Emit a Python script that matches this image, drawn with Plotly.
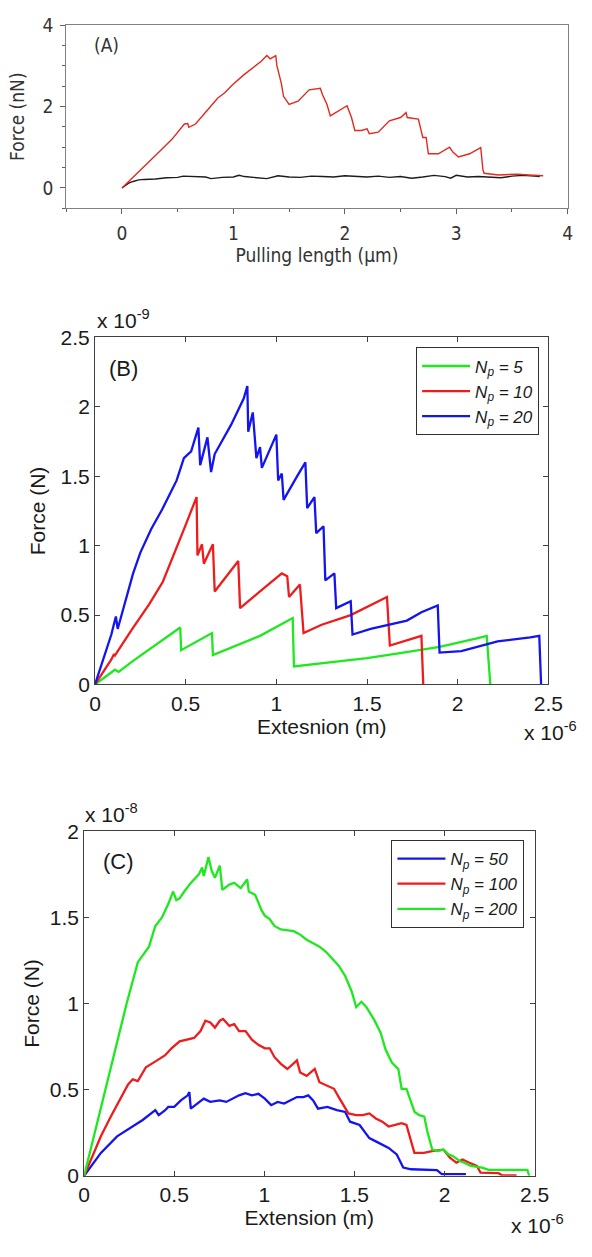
import plotly.graph_objects as go

W, H = 592, 1257

# ---------------- Panel A (x in um, y in nN) ----------------
a_red_x = [0, 0.14, 0.24, 0.33, 0.45, 0.56, 0.59, 0.60, 0.66, 0.76, 0.86, 0.92, 0.99, 1.09, 1.19,
           1.25, 1.30, 1.33, 1.38, 1.39, 1.43, 1.45, 1.50, 1.58, 1.68, 1.78, 1.80, 1.84, 1.87, 1.94,
           2.02, 2.06, 2.09, 2.15, 2.20, 2.22, 2.30, 2.40, 2.50, 2.55, 2.56, 2.66, 2.70, 2.73, 2.75,
           2.84, 2.94, 2.97, 3.02, 3.12, 3.22, 3.24, 3.25, 3.38, 3.55, 3.65, 3.78]
a_red_y = [0, 0.36, 0.64, 0.88, 1.20, 1.57, 1.58, 1.49, 1.57, 1.89, 2.21, 2.33, 2.53, 2.77, 2.97,
           3.11, 3.25, 3.17, 3.25, 3.01, 2.57, 2.25, 2.05, 2.13, 2.41, 2.45, 2.29, 2.05, 1.77, 1.89,
           2.02, 1.73, 1.41, 1.41, 1.45, 1.33, 1.37, 1.65, 1.73, 1.85, 1.73, 1.69, 1.24, 1.24, 0.84,
           0.84, 1.00, 0.88, 0.76, 0.84, 0.99, 0.44, 0.36, 0.32, 0.34, 0.32, 0.30]
a_black_x = [0, 0.03, 0.06, 0.10, 0.15, 0.20, 0.30, 0.40, 0.50, 0.55, 0.65, 0.75, 0.80, 0.90, 1.00,
             1.05, 1.10, 1.20, 1.30, 1.40, 1.50, 1.60, 1.70, 1.80, 1.90, 2.00, 2.10, 2.20, 2.30, 2.40,
             2.50, 2.60, 2.70, 2.80, 2.90, 2.95, 3.00, 3.10, 3.20, 3.30, 3.40, 3.50, 3.60, 3.70, 3.75]
a_black_y = [0, 0.07, 0.12, 0.16, 0.20, 0.21, 0.22, 0.25, 0.26, 0.29, 0.28, 0.27, 0.23, 0.26, 0.27,
             0.31, 0.28, 0.25, 0.23, 0.30, 0.27, 0.26, 0.29, 0.28, 0.27, 0.30, 0.28, 0.27, 0.29, 0.26,
             0.28, 0.24, 0.27, 0.31, 0.28, 0.24, 0.31, 0.27, 0.28, 0.26, 0.25, 0.29, 0.31, 0.29, 0.28]

# ---------------- Panel B (x in 1e-6 m, y in 1e-9 N) ----------------
b_names = ["<i>N<sub>p</sub> = 5</i>", "<i>N<sub>p</sub> = 10</i>", "<i>N<sub>p</sub> = 20</i>"]
b5_x = [0, 0.11, 0.13, 0.21, 0.47, 0.475, 0.645, 0.65, 0.91, 1.09, 1.097, 1.30, 1.50, 1.70, 1.90,
        2.10, 2.16, 2.18]
b5_y = [0, 0.106, 0.09, 0.17, 0.41, 0.247, 0.37, 0.212, 0.35, 0.478, 0.13, 0.16, 0.19, 0.23, 0.27,
        0.33, 0.35, 0]
b10_x = [0, 0.09, 0.105, 0.11, 0.20, 0.30, 0.374, 0.45, 0.50, 0.56, 0.565, 0.59, 0.60, 0.65, 0.66,
         0.79, 0.80, 0.91, 1.03, 1.06, 1.07, 1.13, 1.15, 1.25, 1.41, 1.61, 1.626, 1.80, 1.81]
b10_y = [0, 0.18, 0.22, 0.21, 0.39, 0.58, 0.74, 0.98, 1.15, 1.35, 0.93, 1.01, 0.87, 1.01, 0.67,
         0.89, 0.55, 0.67, 0.80, 0.78, 0.63, 0.72, 0.37, 0.43, 0.50, 0.63, 0.28, 0.35, 0]
b20_x = [0, 0.09, 0.115, 0.125, 0.21, 0.25, 0.31, 0.37, 0.45, 0.49, 0.53, 0.57, 0.58, 0.62, 0.64,
         0.66, 0.75, 0.82, 0.84, 0.845, 0.87, 0.89, 0.91, 0.92, 1.00, 1.01, 1.03, 1.04, 1.11, 1.16,
         1.17, 1.21, 1.22, 1.26, 1.27, 1.32, 1.33, 1.41, 1.42, 1.52, 1.72, 1.80, 1.89, 1.90, 2.02,
         2.22, 2.40, 2.45, 2.46]
b20_y = [0, 0.36, 0.49, 0.40, 0.80, 0.95, 1.12, 1.26, 1.47, 1.63, 1.68, 1.85, 1.58, 1.78, 1.53,
         1.66, 1.87, 2.06, 2.15, 1.82, 1.96, 1.63, 1.71, 1.56, 1.80, 1.47, 1.52, 1.33, 1.49, 1.60,
         1.27, 1.35, 1.09, 1.14, 0.75, 0.80, 0.55, 0.60, 0.36, 0.40, 0.46, 0.52, 0.57, 0.23, 0.24,
         0.31, 0.34, 0.35, 0]

# ---------------- Panel C (x in 1e-6 m, y in 1e-8 N) ----------------
c_names = ["<i>N<sub>p</sub> = 50</i>", "<i>N<sub>p</sub> = 100</i>", "<i>N<sub>p</sub> = 200</i>"]
c50_x = [0, 0.093, 0.183, 0.27, 0.325, 0.395, 0.414, 0.45, 0.467, 0.50, 0.537, 0.575, 0.584, 0.592,
         0.628, 0.664, 0.70, 0.753, 0.789, 0.824, 0.86, 0.895, 0.931, 0.967, 1.003, 1.038, 1.074,
         1.11, 1.146, 1.181, 1.217, 1.244, 1.271, 1.298, 1.35, 1.403, 1.449, 1.476, 1.529, 1.556,
         1.583, 1.619, 1.655, 1.69, 1.735, 1.771, 1.815, 1.958, 1.985, 2.119]
c50_y = [0, 0.133, 0.229, 0.286, 0.324, 0.381, 0.352, 0.381, 0.40, 0.40, 0.438, 0.467, 0.486, 0.39,
         0.419, 0.448, 0.429, 0.438, 0.429, 0.448, 0.467, 0.48, 0.467, 0.476, 0.448, 0.41, 0.429,
         0.419, 0.438, 0.457, 0.457, 0.467, 0.438, 0.39, 0.40, 0.381, 0.371, 0.314, 0.295, 0.257,
         0.219, 0.20, 0.181, 0.162, 0.124, 0.048, 0.038, 0.033, 0.01, 0.01]
c100_x = [0, 0.093, 0.146, 0.20, 0.244, 0.27, 0.298, 0.343, 0.378, 0.405, 0.45, 0.485, 0.53, 0.575,
          0.61, 0.646, 0.673, 0.70, 0.726, 0.753, 0.771, 0.789, 0.806, 0.833, 0.86, 0.896, 0.931,
          0.967, 1.003, 1.03, 1.056, 1.092, 1.128, 1.181, 1.199, 1.235, 1.28, 1.306, 1.342, 1.387,
          1.413, 1.44, 1.467, 1.51, 1.547, 1.583, 1.619, 1.655, 1.69, 1.726, 1.762, 1.789, 1.815,
          1.833, 1.886, 1.931, 1.994, 2.03, 2.066, 2.10, 2.138, 2.18, 2.20, 2.30, 2.32, 2.40]
c100_y = [0, 0.23, 0.34, 0.44, 0.53, 0.56, 0.55, 0.63, 0.65, 0.67, 0.70, 0.74, 0.78, 0.79, 0.80,
          0.84, 0.90, 0.89, 0.86, 0.90, 0.91, 0.89, 0.87, 0.88, 0.84, 0.84, 0.79, 0.76, 0.74, 0.74,
          0.69, 0.65, 0.62, 0.67, 0.60, 0.58, 0.62, 0.543, 0.524, 0.505, 0.457, 0.41, 0.362, 0.352,
          0.352, 0.362, 0.333, 0.314, 0.286, 0.295, 0.305, 0.295, 0.20, 0.133, 0.133, 0.143, 0.152,
          0.105, 0.076, 0.095, 0.076, 0.057, 0.019, 0.015, 0.003, 0.003]
c200_x = [0, 0.06, 0.12, 0.18, 0.236, 0.298, 0.36, 0.395, 0.432, 0.468, 0.494, 0.512, 0.53, 0.556,
          0.592, 0.637, 0.655, 0.664, 0.69, 0.708, 0.726, 0.753, 0.767, 0.806, 0.833, 0.869, 0.905,
          0.914, 0.95, 0.985, 1.003, 1.03, 1.056, 1.092, 1.163, 1.199, 1.235, 1.271, 1.306, 1.342,
          1.378, 1.413, 1.449, 1.485, 1.51, 1.539, 1.566, 1.61, 1.646, 1.673, 1.708, 1.744, 1.762,
          1.789, 1.834, 1.861, 1.888, 1.905, 1.932, 1.959, 1.995, 2.022, 2.048, 2.084, 2.11, 2.146,
          2.209, 2.245, 2.46, 2.47]
c200_y = [0, 0.25, 0.50, 0.76, 1.00, 1.24, 1.33, 1.45, 1.50, 1.58, 1.65, 1.60, 1.61, 1.65, 1.70,
          1.75, 1.79, 1.74, 1.85, 1.77, 1.73, 1.80, 1.66, 1.69, 1.70, 1.67, 1.72, 1.65, 1.63, 1.54,
          1.51, 1.49, 1.45, 1.43, 1.42, 1.40, 1.37, 1.35, 1.33, 1.30, 1.26, 1.22, 1.16, 1.07, 0.98,
          1.01, 0.98, 0.905, 0.829, 0.733, 0.657, 0.619, 0.505, 0.505, 0.371, 0.352, 0.343, 0.257,
          0.152, 0.143, 0.152, 0.124, 0.114, 0.086, 0.076, 0.057, 0.048, 0.035, 0.035, 0]

GREEN, RED, BLUE = "#1ee81e", "#ee1c1c", "#1414f0"
NARROW = "Liberation Sans Narrow, Arial Narrow, DejaVu Sans Condensed, sans-serif"
ARIAL = "Liberation Sans, Arial, sans-serif"


def fx(px):
    return px / W


def fy(py):
    return 1 - py / H


fig = go.Figure()

# Panel A
fig.add_trace(go.Scatter(x=a_black_x, y=a_black_y, mode="lines", xaxis="x", yaxis="y",
                         line=dict(color="#1c1c1c", width=1.4), showlegend=False))
fig.add_trace(go.Scatter(x=a_red_x, y=a_red_y, mode="lines", xaxis="x", yaxis="y",
                         line=dict(color="#e5281e", width=1.4), showlegend=False))

# Panel B
for i, (xs, ys, col) in enumerate([(b5_x, b5_y, GREEN), (b10_x, b10_y, RED), (b20_x, b20_y, BLUE)]):
    fig.add_trace(go.Scatter(x=xs, y=ys, mode="lines", xaxis="x2", yaxis="y2", name=b_names[i],
                             legend="legend2", legendgroup="b%d" % i,
                             line=dict(color=col, width=2.3)))

# Panel C
for i, (xs, ys, col) in enumerate([(c50_x, c50_y, BLUE), (c100_x, c100_y, RED), (c200_x, c200_y, GREEN)]):
    fig.add_trace(go.Scatter(x=xs, y=ys, mode="lines", xaxis="x3", yaxis="y3", name=c_names[i],
                             legend="legend3", legendgroup="c%d" % i,
                             line=dict(color=col, width=2.3)))

A_TICKFONT = dict(family=NARROW, size=19, color="#333333")
A_TITLEFONT = dict(family=NARROW, size=19, color="#333333")
BC_TICKFONT = dict(family=ARIAL, size=21, color="#1a1a1a")
BC_TITLEFONT = dict(family=ARIAL, size=21, color="#1a1a1a")

common_a = dict(showgrid=False, zeroline=False, showline=True, linecolor="#808080", linewidth=1,
                mirror=True, ticks="outside", ticklen=5, tickcolor="#606060",
                minor=dict(ticks="outside", ticklen=3, tickcolor="#606060", dtick=0.5),
                tickfont=A_TICKFONT)
common_bc = dict(showgrid=False, zeroline=False, showline=True, linecolor="#404040", linewidth=1,
                 mirror="allticks", ticks="inside", ticklen=5, tickcolor="#404040",
                 tickfont=BC_TICKFONT, dtick=0.5, tick0=0)

fig.update_layout(
    width=W, height=H, margin=dict(l=0, r=0, t=0, b=0),
    paper_bgcolor="white", plot_bgcolor="white",
    xaxis=dict(domain=[fx(62.5), fx(582.3)], range=[-0.5, 4], dtick=1, tick0=0, anchor="y",
               title=dict(text="Pulling length (\u03bcm)", font=A_TITLEFONT, standoff=2),
               ticklabelstandoff=3, **common_a),
    yaxis=dict(domain=[fy(200), fy(13.3)], range=[-0.5, 4], dtick=2, tick0=0, anchor="x",
               title=dict(text="Force (nN)", font=A_TITLEFONT, standoff=12),
               ticklabelstandoff=3, **common_a),
    xaxis2=dict(domain=[fx(92.3), fx(562.3)], range=[0, 2.5], anchor="y2",
                title=dict(text="Extesnion (m)", font=BC_TITLEFONT, standoff=2), **common_bc),
    yaxis2=dict(domain=[fy(685), fy(331.5)], range=[0, 2.5], anchor="x2",
                title=dict(text="Force (N)", font=BC_TITLEFONT, standoff=9), **common_bc),
    xaxis3=dict(domain=[fx(81), fx(548)], range=[0, 2.5], anchor="y3",
                title=dict(text="Extension (m)", font=BC_TITLEFONT, standoff=2), **common_bc),
    yaxis3=dict(domain=[fy(1185.5), fy(834.5)], range=[0, 2.0], anchor="x3",
                title=dict(text="Force (N)", font=BC_TITLEFONT, standoff=4), **common_bc),
    legend2=dict(x=fx(552.7), y=fy(341.7), xanchor="right", yanchor="top", xref="paper", yref="paper",
                 bgcolor="white", bordercolor="#303030", borderwidth=1,
                 font=dict(family=ARIAL, size=17, color="#1a1a1a"), itemwidth=48,
                 tracegroupgap=5, traceorder="normal"),
    legend3=dict(x=fx(537.5), y=fy(843.5), xanchor="right", yanchor="top", xref="paper", yref="paper",
                 bgcolor="white", bordercolor="#303030", borderwidth=1,
                 font=dict(family=ARIAL, size=17, color="#1a1a1a"), itemwidth=48,
                 tracegroupgap=5, traceorder="normal"),
)

ann = [
    dict(text="(A)", x=fx(104), y=fy(34), font=dict(family=NARROW, size=19, color="#333333")),
    dict(text="(B)", x=fx(122), y=fy(363), font=dict(family=ARIAL, size=22, color="#1a1a1a")),
    dict(text="(C)", x=fx(117), y=fy(865), font=dict(family=ARIAL, size=22, color="#1a1a1a")),
    dict(text="x 10<sup>-9</sup>", x=fx(92), y=fy(328), xanchor="left", yanchor="bottom",
         font=dict(family=ARIAL, size=21, color="#1a1a1a")),
    dict(text="x 10<sup>-6</sup>", x=fx(535), y=fy(717), xanchor="left", yanchor="top",
         font=dict(family=ARIAL, size=21, color="#1a1a1a")),
    dict(text="x 10<sup>-8</sup>", x=fx(80), y=fy(831), xanchor="left", yanchor="bottom",
         font=dict(family=ARIAL, size=21, color="#1a1a1a")),
    dict(text="x 10<sup>-6</sup>", x=fx(521), y=fy(1219), xanchor="left", yanchor="top",
         font=dict(family=ARIAL, size=21, color="#1a1a1a")),
]
for a in ann:
    a.setdefault("xanchor", "center")
    a.setdefault("yanchor", "middle")
    fig.add_annotation(xref="paper", yref="paper", showarrow=False, **a)

fig.write_html("out.html", config={"displayModeBar": False},
               post_script="document.body.style.margin='0';document.body.style.overflow='hidden';")
